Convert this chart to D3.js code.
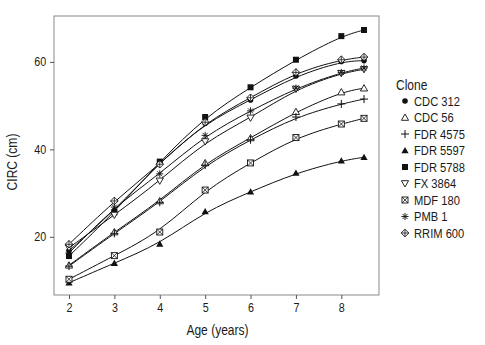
<!DOCTYPE html>
<html>
<head>
<meta charset="utf-8">
<script src="https://cdn.jsdelivr.net/npm/d3@7"></script>
<style>
  body { margin: 0; background: #fff; }
  svg { font-family: 'Liberation Sans', Arial, sans-serif; }
</style>
</head>
<body>
<div id="chart"></div>
<script>
// ages (years) at which circumference was measured
const ages = [2, 3, 4, 5, 6, 7, 8, 8.5]

const clones = ['CDC 312', 'CDC 56', 'FDR 4575', 'FDR 5597', 'FDR 5788', 'FX 3864', 'MDF 180', 'PMB 1', 'RRIM 600']

// CIRC (cm) per clone
const cdc312 = [16.8, 26.0, 37.0, 46.0, 51.3, 56.8, 60.1, 60.3]
const cdc56 = [13.5, 21.1, 28.2, 36.9, 42.6, 48.6, 53.1, 54.0]
const fdr4575 = [13.3, 20.8, 27.9, 36.4, 42.2, 47.4, 50.4, 51.5]
const fdr5597 = [9.5, 14.0, 18.4, 25.8, 30.3, 34.6, 37.4, 38.2]
const fdr5788 = [15.6, 25.6, 37.2, 47.4, 54.2, 60.5, 65.9, 67.3]
const fx3864 = [17.5, 25.0, 32.8, 41.8, 47.2, 53.8, 57.4, 58.3]
const mdf180 = [10.3, 15.7, 21.1, 30.7, 36.9, 42.7, 45.8, 47.1]
const pmb1 = [16.3, 26.8, 34.4, 43.2, 48.8, 54.0, 57.6, 58.6]
const rrim600 = [18.3, 28.2, 36.6, 46.2, 51.8, 57.6, 60.5, 61.1]

const seriesValues = [cdc312, cdc56, fdr4575, fdr5597, fdr5788, fx3864, mdf180, pmb1, rrim600]
const yTicks = [20, 40, 60]
const xTicks = [2, 3, 4, 5, 6, 7, 8]

const size = { width: 485, height: 345 }
const panel = { left: 54, right: 379, top: 16, bottom: 295 }
const squeeze = 0.86 // the original uses a narrow sans face

const svg = d3.select('#chart')
  .append('svg')
  .attr('width', size.width)
  .attr('height', size.height)

const xScale = d3.scaleLinear().domain([1.67, 8.83]).range([panel.left, panel.right])
const yScale = d3.scaleLinear().domain([6.7, 70.5]).range([panel.bottom, panel.top])

// narrow text placed at (x, y)
function narrowText (parent, x, y, str, fontSize, anchor = 'start', rotate = 0) {
  return parent.append('text')
    .attr('transform', `translate(${x},${y}) rotate(${rotate}) scale(${squeeze},1)`)
    .attr('text-anchor', anchor)
    .style('font-size', fontSize + 'px')
    .attr('fill', '#1a1a1a')
    .text(str)
}

// panel box
svg.append('rect')
  .attr('x', panel.left)
  .attr('y', panel.top)
  .attr('width', panel.right - panel.left)
  .attr('height', panel.bottom - panel.top)
  .attr('fill', 'none')
  .attr('stroke', '#8a8a8a')
  .attr('stroke-width', 1)

const xAxis = d3.axisBottom(xScale).tickValues(xTicks).tickSize(4).tickPadding(4)
const yAxis = d3.axisLeft(yScale).tickValues(yTicks).tickSize(4).tickPadding(5)

const gx = svg.append('g')
  .attr('class', 'axis axis-x')
  .attr('transform', `translate(0,${panel.bottom})`)
  .call(xAxis)
const gy = svg.append('g')
  .attr('class', 'axis axis-y')
  .attr('transform', `translate(${panel.left},0)`)
  .call(yAxis)

;[gx, gy].forEach(g => {
  g.select('.domain').remove()
  g.selectAll('line').attr('stroke', '#555')
  g.selectAll('text').attr('fill', '#1a1a1a')
    .style('font-size', '12.5px')
    .style('font-family', "'Liberation Sans', Arial, sans-serif")
    .attr('transform', `scale(${squeeze},1)`)
})

narrowText(svg, (panel.left + panel.right) / 2 + 1, 335, 'Age (years)', 14, 'middle')
narrowText(svg, 16.5, 162, 'CIRC (cm)', 14, 'middle', -90)

// smoothed growth curves
const line = d3.line()
  .x((d, i) => xScale(ages[i]))
  .y(d => yScale(d))
  .curve(d3.curveBasis)

svg.append('g')
  .attr('class', 'curves')
  .selectAll('path')
  .data(seriesValues)
  .join('path')
  .attr('d', line)
  .attr('fill', 'none')
  .attr('stroke', '#111')
  .attr('stroke-width', 1)

// marker shapes, one per clone
function drawMarker (g, k, x, y) {
  const s = 3
  const stroke = '#111'
  if (k === 0) {
    g.append('circle').attr('cx', x).attr('cy', y).attr('r', 2.8).attr('fill', stroke)
  } else if (k === 1) {
    g.append('path').attr('d', `M${x},${y - 3.5}L${x + 3.6},${y + 2.8}L${x - 3.6},${y + 2.8}Z`)
      .attr('fill', '#fff').attr('stroke', stroke).attr('stroke-width', 0.9)
  } else if (k === 2) {
    g.append('path').attr('d', `M${x - 4},${y}H${x + 4}M${x},${y - 4}V${y + 4}`)
      .attr('stroke', stroke).attr('stroke-width', 1)
  } else if (k === 3) {
    g.append('path').attr('d', `M${x},${y - 3.5}L${x + 3.6},${y + 2.8}L${x - 3.6},${y + 2.8}Z`)
      .attr('fill', stroke)
  } else if (k === 4) {
    g.append('rect').attr('x', x - s).attr('y', y - s).attr('width', 2 * s).attr('height', 2 * s)
      .attr('fill', stroke)
  } else if (k === 5) {
    g.append('path').attr('d', `M${x},${y + 3.5}L${x + 3.6},${y - 2.8}L${x - 3.6},${y - 2.8}Z`)
      .attr('fill', '#fff').attr('stroke', stroke).attr('stroke-width', 0.9)
  } else if (k === 6) {
    g.append('rect').attr('x', x - s).attr('y', y - s).attr('width', 2 * s).attr('height', 2 * s)
      .attr('fill', '#fff').attr('stroke', stroke).attr('stroke-width', 0.9)
    g.append('path').attr('d', `M${x - s},${y - s}L${x + s},${y + s}M${x + s},${y - s}L${x - s},${y + s}`)
      .attr('stroke', stroke).attr('stroke-width', 0.8)
  } else if (k === 7) {
    const r = 3.6
    const d = r * 0.707
    g.append('path')
      .attr('d', `M${x - r},${y}H${x + r}M${x},${y - r}V${y + r}M${x - d},${y - d}L${x + d},${y + d}M${x + d},${y - d}L${x - d},${y + d}`)
      .attr('stroke', stroke).attr('stroke-width', 0.9)
  } else {
    const r = 3.8
    g.append('path').attr('d', `M${x},${y - r}L${x + r},${y}L${x},${y + r}L${x - r},${y}Z`)
      .attr('fill', '#fff').attr('stroke', stroke).attr('stroke-width', 0.9)
    g.append('path').attr('d', `M${x - r},${y}H${x + r}M${x},${y - r}V${y + r}`)
      .attr('stroke', stroke).attr('stroke-width', 0.8)
  }
}

const markers = svg.append('g').attr('class', 'markers')
seriesValues.forEach((vals, k) => {
  vals.forEach((v, i) => drawMarker(markers, k, xScale(ages[i]), yScale(v)))
})

// legend
const legend = svg.append('g').attr('class', 'legend')
narrowText(legend, 396, 90, 'Clone', 14)

clones.forEach((name, k) => {
  const cy = 101 + k * 16.5
  drawMarker(legend, k, 405, cy)
  narrowText(legend, 414, cy + 4.5, name, 13)
})
</script>
</body>
</html>
